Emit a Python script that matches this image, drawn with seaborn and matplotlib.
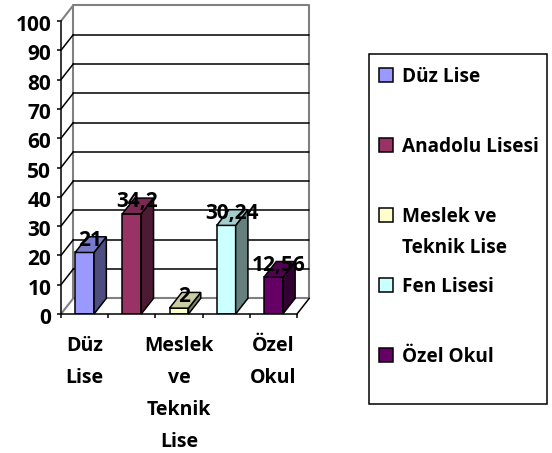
import matplotlib
matplotlib.use("Agg")
import matplotlib.pyplot as plt
import matplotlib.colors as mc
import matplotlib.transforms as mt
from matplotlib.patches import Polygon, Rectangle
import pandas as pd
import seaborn as sns

okullar = ["Düz Lise", "Anadolu Lisesi", "Meslek ve Teknik Lise", "Fen Lisesi", "Özel Okul"]
degerler = [21, 34.2, 2, 30.24, 12.56]
etiketler = ["21", "34,2", "2", "30,24", "12,56"]
renkler = ["#9999FF", "#993366", "#FFFFCC", "#CCFFFF", "#660066"]
x_etiket = ["Düz\nLise", "", "Meslek\nve\nTeknik\nLise", "", "Özel\nOkul"]
y_ticks = [0, 10, 20, 30, 40, 50, 60, 70, 80, 90, 100]
legend_etiket = ["Düz Lise", "Anadolu Lisesi", "Meslek ve\nTeknik Lise", "Fen Lisesi", "Özel Okul"]

W, H = 552, 453
sns.set_theme(style="white")
plt.rcParams["font.family"] = ["Open Sans", "DejaVu Sans"]
plt.rcParams["font.weight"] = "bold"
KALIN = "bold"

fig = plt.figure(figsize=(W / 100, H / 100), dpi=100)
ax = fig.add_axes([61 / W, 1 - 314 / H, 236 / W, 293 / H])

df = pd.DataFrame({"okul": okullar, "deger": degerler})
sns.barplot(data=df, x="okul", y="deger", hue="okul", palette=renkler, legend=False,
            width=0.4, saturation=1, edgecolor="black", linewidth=1.1, ax=ax, zorder=2)
ax.set_xlim(-0.5, 4.5)
ax.set_ylim(0, 100)
ax.set_xlabel("")
ax.set_ylabel("")

# 3d look: depth of walls and bars in data units
dx, dy = 12.3 / 47.2, 15.7 / 2.93
grid_c = "black"
wall_c = "#808080"
xa, xb = -0.5, 4.5

for v in y_ticks[1:-1]:
    ax.plot([xa + dx, xb + dx], [v + dy, v + dy], color=grid_c, lw=1.1, zorder=1, clip_on=False)
    ax.plot([xa, xa + dx], [v, v + dy], color=grid_c, lw=1.1, zorder=1, clip_on=False)

ax.plot([xa + dx, xa + dx, xb + dx, xb + dx, xa + dx], [dy, 100 + dy, 100 + dy, dy, dy],
        color=wall_c, lw=1.5, zorder=0.9, clip_on=False)
ax.plot([xa, xa + dx], [0, dy], color=wall_c, lw=1.5, zorder=0.9, clip_on=False)
ax.plot([xa, xa + dx], [100, 100 + dy], color=wall_c, lw=1.5, zorder=0.9, clip_on=False)
ax.plot([xb, xb + dx], [0, dy], color="black", lw=1.1, zorder=1, clip_on=False)

def koyu(renk, k):
    r, g, b = mc.to_rgb(renk)
    return (r * k, g * k, b * k)

bw = 0.4
for i, v in enumerate(degerler):
    x0, x1 = i - bw / 2, i + bw / 2
    ax.add_patch(Polygon([(x1, 0), (x1 + dx, dy), (x1 + dx, v + dy), (x1, v)], closed=True,
                         fc=koyu(renkler[i], 0.5), ec="black", lw=1.1, zorder=2, clip_on=False))
    ax.add_patch(Polygon([(x0, v), (x0 + dx, v + dy), (x1 + dx, v + dy), (x1, v)], closed=True,
                         fc=koyu(renkler[i], 0.8), ec="black", lw=1.1, zorder=2, clip_on=False))
    ax.annotate(etiketler[i], (i, v), xytext=(4, 8.5), textcoords="offset points",
                ha="center", va="center", fontsize=15, fontweight=KALIN, color="black",
                zorder=5, annotation_clip=False)

for s in ["top", "right"]:
    ax.spines[s].set_visible(False)
for s in ["left", "bottom"]:
    ax.spines[s].set_color("black")
    ax.spines[s].set_linewidth(1.1)

ax.set_yticks(y_ticks)
ax.tick_params(axis="y", left=True, length=3, width=1.1, color="black", pad=4,
               labelsize=15, labelcolor="black")
ax.set_xticks([-0.5, 0.5, 1.5, 2.5, 3.5, 4.5])
ax.set_xticklabels([])
ax.tick_params(axis="x", which="major", bottom=True, length=3, width=1.1, color="black")
ax.set_xticks(range(5), labels=x_etiket, minor=True)
ax.tick_params(axis="x", which="minor", bottom=False, length=0, pad=16, labelsize=14, labelcolor="black")

for t in ax.get_xticklabels(minor=True):
    t.set_linespacing(1.8)
asagi = mt.ScaledTranslation(0, -2 / 100, fig.dpi_scale_trans)
for t in ax.get_yticklabels():
    t.set_transform(t.get_transform() + asagi)

# legend box
fig.add_artist(Rectangle((369 / W, 1 - 404 / H), 178 / W, 350 / H, transform=fig.transFigure,
                         fc="white", ec="black", lw=1.1))
legend_y = [75, 145, 215, 285, 355]
for y, renk, ad in zip(legend_y, renkler, legend_etiket):
    fig.add_artist(Rectangle((379 / W, 1 - (y + 7) / H), 14 / W, 14 / H, transform=fig.transFigure,
                             fc=renk, ec="black", lw=1.1))
    fig.text(402 / W, 1 - (y - 8.5) / H, ad, ha="left", va="top", fontsize=13.7, fontweight=KALIN,
             color="black", linespacing=1.75)

fig.savefig("out.png", dpi=100)
